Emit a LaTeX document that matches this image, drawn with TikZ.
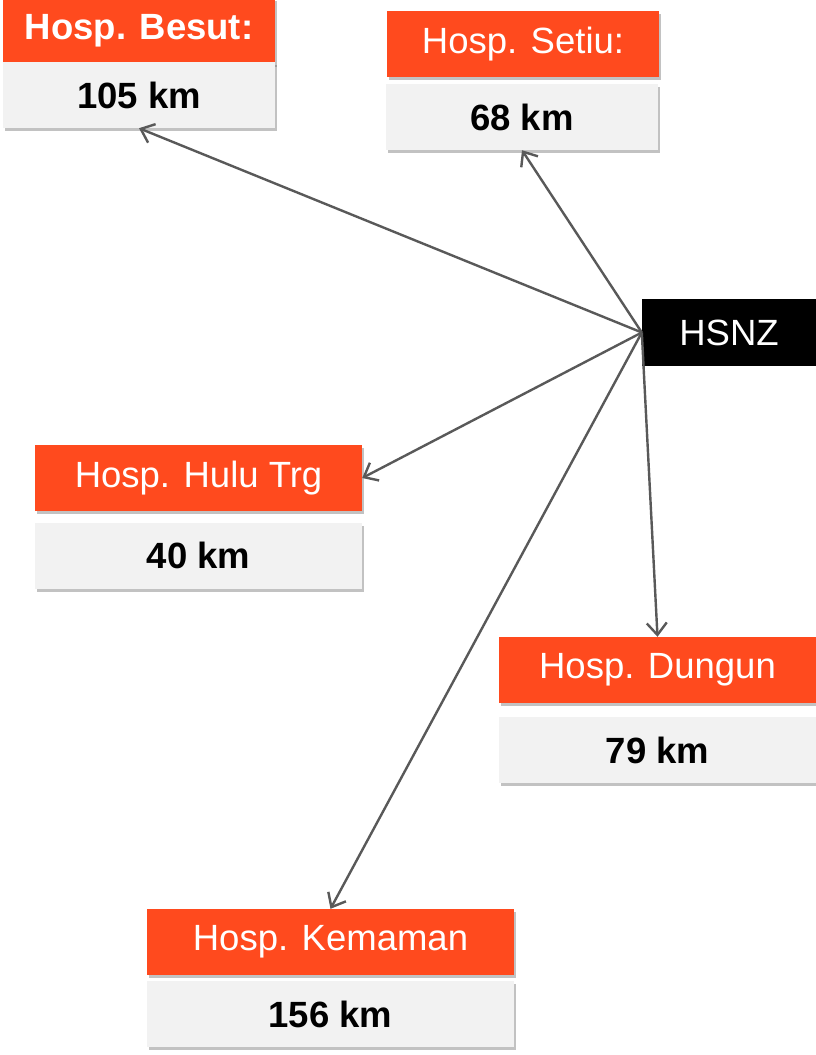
\documentclass[tikz,border=0pt]{standalone}
\usepackage{fontspec}
\setmainfont{Liberation Sans}
\usetikzlibrary{arrows.meta,shadows}
\definecolor{hosporange}{HTML}{FF4A1E}
\definecolor{distgrey}{HTML}{F2F2F2}
\definecolor{linkgrey}{HTML}{595959}
\tikzset{
  boxshade/.style={drop shadow={shadow xshift=1.5pt, shadow yshift=-3pt, opacity=0.4, fill=black!60}},
  hosphead/.style={boxshade, fill=hosporange, text=white, inner sep=0pt, minimum height=66pt,
    font=\fontsize{36.5}{40}\selectfont},
  hospdist/.style={boxshade, fill=distgrey, text=black, inner sep=0pt, minimum height=66pt,
    font=\fontsize{36.5}{40}\selectfont\bfseries},
  hubbox/.style={fill=black, text=white, inner sep=0pt, minimum height=67pt, minimum width=174pt,
    font=\fontsize{36.5}{40}\selectfont},
  link/.style={draw=linkgrey, line width=2.4pt, -{Straight Barb[length=12pt, width=20pt, line width=2.4pt]}}
}
\begin{document}
\begin{tikzpicture}[x=1pt, y=-1pt]
	\useasboundingbox (0,0) rectangle (816,1055);
	% hospitals
	\node[hosphead, minimum width=272pt, font=\fontsize{36.5}{40}\selectfont\bfseries] (besutH) at (139,31) {Hosp. Besut:};
	\node[hospdist, minimum width=272pt] (besutD) at (139,95) {105 km};
	\node[hosphead, minimum width=272pt] (setiuH) at (523,44) {Hosp. Setiu:};
	\node[hospdist, minimum width=272pt] (setiuD) at (522,117) {68 km};
	\node[hosphead, minimum width=327pt] (huluH) at (198.5,478) {Hosp. Hulu Trg};
	\node[hospdist, minimum width=327pt] (huluD) at (198.5,555.5) {40 km};
	\node[hosphead, minimum width=317pt] (dungunH) at (657.5,670) {Hosp. Dungun};
	\node[hospdist, minimum width=317pt] (dungunD) at (657.5,750) {79 km};
	\node[hosphead, minimum width=367pt] (kemamanH) at (330.5,942) {Hosp. Kemaman};
	\node[hospdist, minimum width=367pt] (kemamanD) at (330.5,1014) {156 km};
	% hub
	\node[hubbox] (hsnz) at (729,332.5) {HSNZ};
	% links
	\draw[link] (hsnz.west) -- (besutD.south);
	\draw[link] (hsnz.west) -- (setiuD.south);
	\draw[link] (hsnz.west) -- (huluH.east);
	\draw[link] (hsnz.west) -- (dungunH.north);
	\draw[link] (hsnz.west) -- (kemamanH.north);
\end{tikzpicture}
\end{document}
